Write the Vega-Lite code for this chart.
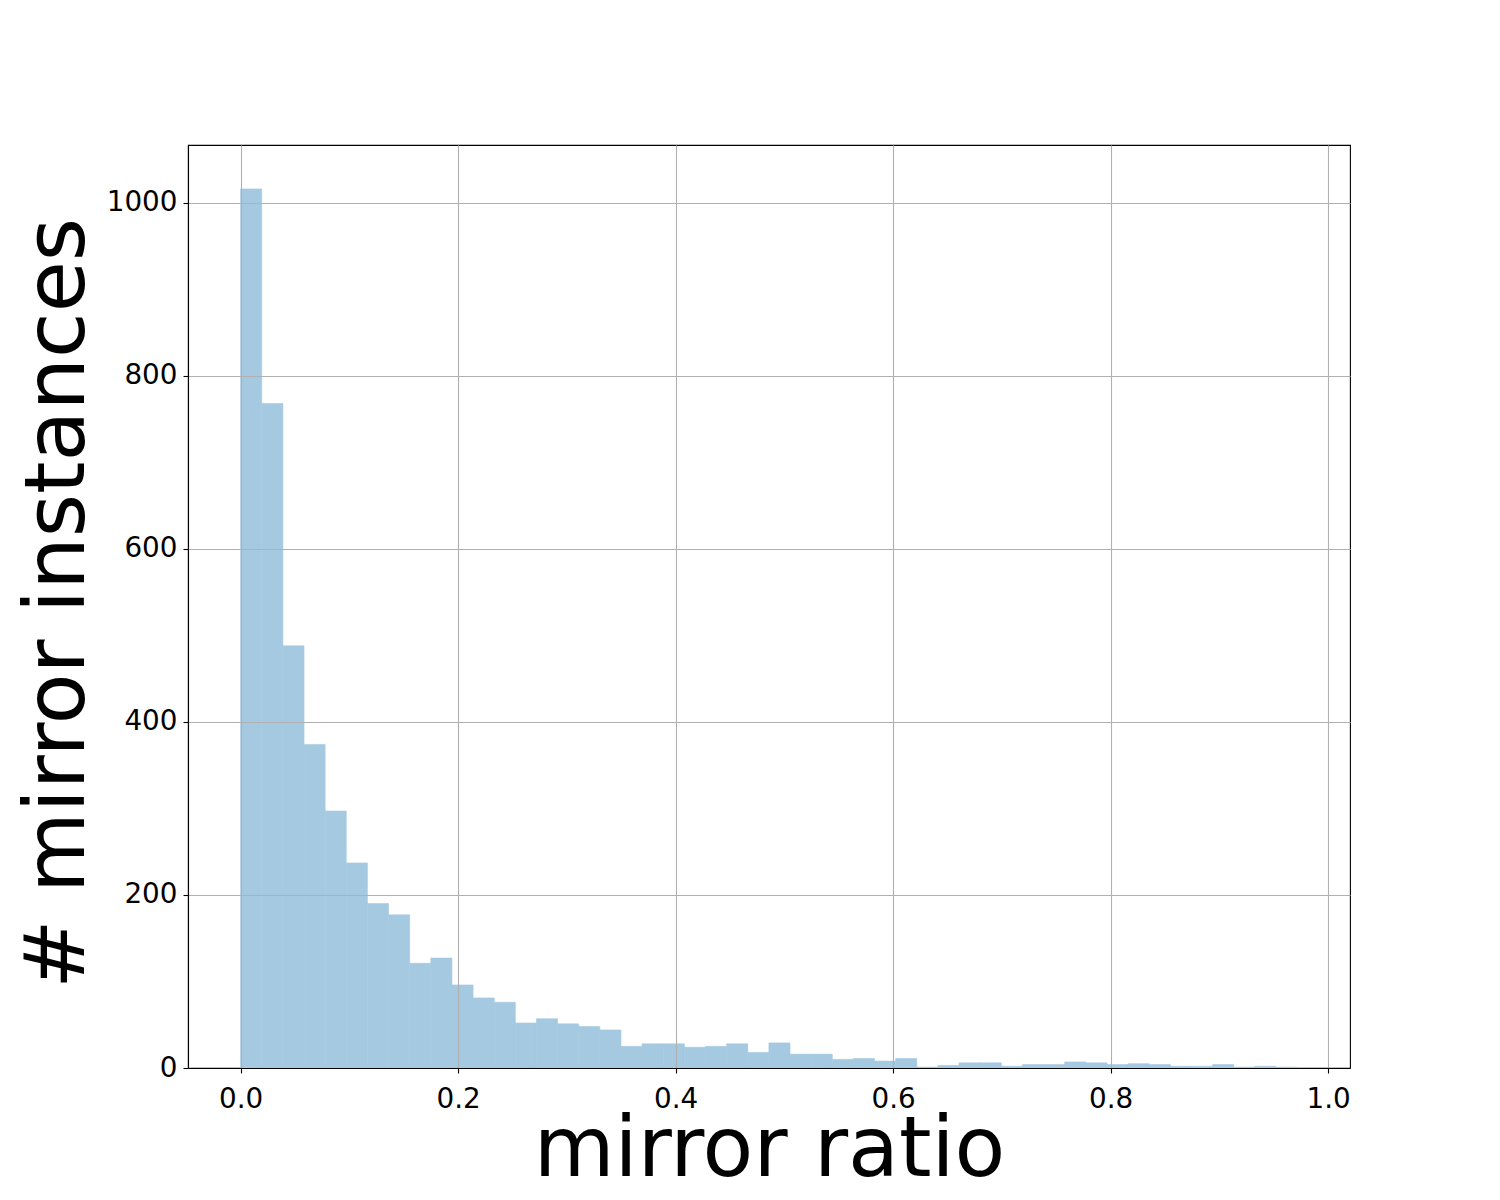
{
  "$schema": "https://vega.github.io/schema/vega-lite/v6.json",
  "width": 1162,
  "height": 923,
  "autosize": {"type": "none"},
  "padding": {"left": 188, "top": 145, "right": 150, "bottom": 132},
  "background": "white",
  "config": {
    "view": {"stroke": "black", "strokeWidth": 1.1},
    "font": "DejaVu Sans"
  },
  "data": {
    "values": [
      {"bin_start": 0.0, "bin_end": 0.01943, "count": 1016},
      {"bin_start": 0.01943, "bin_end": 0.03886, "count": 768},
      {"bin_start": 0.03886, "bin_end": 0.05829, "count": 488},
      {"bin_start": 0.05829, "bin_end": 0.07772, "count": 374},
      {"bin_start": 0.07772, "bin_end": 0.09715, "count": 297},
      {"bin_start": 0.09715, "bin_end": 0.11658, "count": 237},
      {"bin_start": 0.11658, "bin_end": 0.13601, "count": 190},
      {"bin_start": 0.13601, "bin_end": 0.15544, "count": 177},
      {"bin_start": 0.15544, "bin_end": 0.17487, "count": 121},
      {"bin_start": 0.17487, "bin_end": 0.1943, "count": 127},
      {"bin_start": 0.1943, "bin_end": 0.21373, "count": 96},
      {"bin_start": 0.21373, "bin_end": 0.23316, "count": 81},
      {"bin_start": 0.23316, "bin_end": 0.25259, "count": 76},
      {"bin_start": 0.25259, "bin_end": 0.27202, "count": 52},
      {"bin_start": 0.27202, "bin_end": 0.29145, "count": 57},
      {"bin_start": 0.29145, "bin_end": 0.31088, "count": 51},
      {"bin_start": 0.31088, "bin_end": 0.33031, "count": 48},
      {"bin_start": 0.33031, "bin_end": 0.34974, "count": 44},
      {"bin_start": 0.34974, "bin_end": 0.36917, "count": 25},
      {"bin_start": 0.36917, "bin_end": 0.3886, "count": 28},
      {"bin_start": 0.3886, "bin_end": 0.40803, "count": 28},
      {"bin_start": 0.40803, "bin_end": 0.42746, "count": 24},
      {"bin_start": 0.42746, "bin_end": 0.44689, "count": 25},
      {"bin_start": 0.44689, "bin_end": 0.46632, "count": 28},
      {"bin_start": 0.46632, "bin_end": 0.48575, "count": 18},
      {"bin_start": 0.48575, "bin_end": 0.50518, "count": 29},
      {"bin_start": 0.50518, "bin_end": 0.52461, "count": 16},
      {"bin_start": 0.52461, "bin_end": 0.54404, "count": 16},
      {"bin_start": 0.54404, "bin_end": 0.56347, "count": 10},
      {"bin_start": 0.56347, "bin_end": 0.5829, "count": 11},
      {"bin_start": 0.5829, "bin_end": 0.60233, "count": 8},
      {"bin_start": 0.60233, "bin_end": 0.62176, "count": 11},
      {"bin_start": 0.62176, "bin_end": 0.64119, "count": 1},
      {"bin_start": 0.64119, "bin_end": 0.66062, "count": 3},
      {"bin_start": 0.66062, "bin_end": 0.68005, "count": 6},
      {"bin_start": 0.68005, "bin_end": 0.69948, "count": 6},
      {"bin_start": 0.69948, "bin_end": 0.71891, "count": 2},
      {"bin_start": 0.71891, "bin_end": 0.73834, "count": 4},
      {"bin_start": 0.73834, "bin_end": 0.75777, "count": 4},
      {"bin_start": 0.75777, "bin_end": 0.7772, "count": 7},
      {"bin_start": 0.7772, "bin_end": 0.79663, "count": 6},
      {"bin_start": 0.79663, "bin_end": 0.81606, "count": 4},
      {"bin_start": 0.81606, "bin_end": 0.83549, "count": 5},
      {"bin_start": 0.83549, "bin_end": 0.85492, "count": 4},
      {"bin_start": 0.85492, "bin_end": 0.87435, "count": 2},
      {"bin_start": 0.87435, "bin_end": 0.89378, "count": 2},
      {"bin_start": 0.89378, "bin_end": 0.91321, "count": 4},
      {"bin_start": 0.91321, "bin_end": 0.93264, "count": 1},
      {"bin_start": 0.93264, "bin_end": 0.95207, "count": 2},
      {"bin_start": 0.95207, "bin_end": 0.9715, "count": 1}
    ]
  },
  "mark": {"type": "bar", "orient": "vertical", "fill": "#a5c9e1", "stroke": "#a5c9e1", "strokeWidth": 0.6, "opacity": 1},
  "encoding": {
    "x": {
      "field": "bin_start",
      "type": "quantitative",
      "scale": {"domain": [-0.0484, 1.0201], "nice": false, "zero": false, "padding": 0},
      "axis": {
        "zindex": 1,
        "values": [0, 0.2, 0.4, 0.6, 0.8, 1.0],
        "format": ".1f",
        "title": "mirror ratio",
        "titleFont": "DejaVu Sans",
        "titleFontSize": 83,
        "titleFontWeight": "normal",
        "titleColor": "black",
        "titleBaseline": "alphabetic",
        "titleAnchor": "middle",
        "titleAlign": "center",
        "titleX": 581,
        "titleY": 107,
        "labelFont": "DejaVu Sans",
        "labelFontSize": 27.8,
        "labelColor": "black",
        "labelBaseline": "alphabetic",
        "labelPadding": 34,
        "labelFlush": false,
        "labelOverlap": false,
        "tickSize": 5,
        "tickColor": "black",
        "tickWidth": 1.1,
        "domainColor": "black",
        "domainWidth": 1.1,
        "grid": true,
        "gridColor": "#b0b0b0",
        "gridWidth": 1.1,
        "gridOpacity": 1
      }
    },
    "x2": {"field": "bin_end"},
    "y": {
      "field": "count",
      "type": "quantitative",
      "scale": {"domain": [0, 1066.8], "nice": false, "zero": true, "padding": 0},
      "axis": {
        "zindex": 1,
        "values": [0, 200, 400, 600, 800, 1000],
        "format": "d",
        "title": "# mirror instances",
        "titleFont": "DejaVu Sans",
        "titleFontSize": 83,
        "titleFontWeight": "normal",
        "titleColor": "black",
        "titleAngle": 270,
        "titleBaseline": "alphabetic",
        "titleAnchor": "middle",
        "titleAlign": "center",
        "titleX": -105,
        "titleY": 458,
        "labelFont": "DejaVu Sans",
        "labelFontSize": 27.8,
        "labelColor": "black",
        "labelPadding": 6,
        "labelFlush": false,
        "labelOverlap": false,
        "tickSize": 5,
        "tickColor": "black",
        "tickWidth": 1.1,
        "domainColor": "black",
        "domainWidth": 1.1,
        "grid": true,
        "gridColor": "#b0b0b0",
        "gridWidth": 1.1,
        "gridOpacity": 1
      }
    },
    "y2": {"datum": 0}
  }
}
